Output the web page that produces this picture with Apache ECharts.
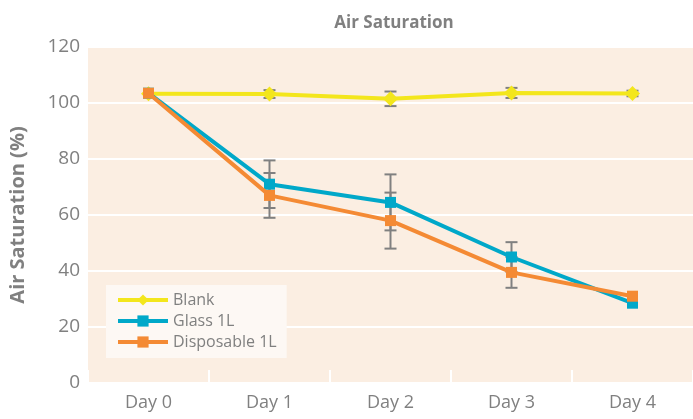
<!DOCTYPE html>
<html>
<head>
<meta charset="utf-8">
<script src="https://cdn.jsdelivr.net/npm/echarts@6/dist/echarts.min.js"></script>
<style>
  html, body { margin: 0; padding: 0; background: #fff; }
  #chart { width: 693px; height: 419px; }
</style>
</head>
<body>
<div id="chart"></div>
<script>
var days = ['Day 0', 'Day 1', 'Day 2', 'Day 3', 'Day 4'];
var blank = [103.3, 103.2, 101.5, 103.6, 103.4];
var blankErr = [0, 1.4, 2.6, 1.8, 1];
var glass = [103.5, 71, 64.5, 45, 28.5];
var glassErr = [0, 8.5, 10, 5.3, 0];
var disposable = [103.5, 67, 58, 39.5, 31];
var disposableErr = [0, 8, 10, 5.5, 0];

var grey = '#808080';
var font = '"Open Sans", "Noto Sans", sans-serif';

function errData(vals, errs) {
  var out = [];
  for (var i = 0; i < vals.length; i++) {
    if (errs[i] > 0) out.push([i, vals[i] - errs[i], vals[i] + errs[i]]);
  }
  return out;
}

function renderErr(params, api) {
  var lo = api.coord([api.value(0), api.value(1)]);
  var hi = api.coord([api.value(0), api.value(2)]);
  var w = 6;
  var st = { stroke: grey, lineWidth: 2 };
  return {
    type: 'group',
    children: [
      { type: 'line', shape: { x1: hi[0], y1: hi[1], x2: lo[0], y2: lo[1] }, style: st },
      { type: 'line', shape: { x1: hi[0] - w, y1: hi[1], x2: hi[0] + w, y2: hi[1] }, style: st },
      { type: 'line', shape: { x1: lo[0] - w, y1: lo[1], x2: lo[0] + w, y2: lo[1] }, style: st }
    ]
  };
}

function errSeries(vals, errs) {
  return {
    type: 'custom',
    renderItem: renderErr,
    data: errData(vals, errs),
    encode: { x: 0, y: [1, 2] },
    z: 1,
    silent: true
  };
}

var chart = echarts.init(document.getElementById('chart'));
chart.setOption({
  animation: false,
  textStyle: { fontFamily: font },
  title: {
    text: 'Air Saturation',
    left: 389,
    textAlign: 'center',
    top: 10,
    textStyle: { color: grey, fontSize: 17, fontWeight: 'bold', fontFamily: font }
  },
  grid: {
    left: 88, right: -5, top: 47, bottom: 36,
    show: true, backgroundColor: '#fbeee2', borderWidth: 0
  },
  legend: {
    orient: 'vertical',
    left: 106, top: 285,
    backgroundColor: '#fdf8f4',
    padding: [7, 10, 8, 10],
    itemGap: 5,
    itemWidth: 50, itemHeight: 14,
    lineStyle: { width: 4 },
    textStyle: { color: grey, fontSize: 16, fontFamily: font },
    data: ['Blank', 'Glass 1L', 'Disposable 1L']
  },
  xAxis: {
    type: 'category',
    data: days,
    boundaryGap: true,
    axisLine: { show: false },
    axisTick: { show: true, inside: true, length: 13, lineStyle: { color: '#fff', width: 2 } },
    axisLabel: { color: grey, fontSize: 18, margin: 11, fontFamily: font },
    splitLine: { show: false }
  },
  yAxis: {
    type: 'value',
    min: 0, max: 120, interval: 20,
    name: 'Air Saturation (%)',
    nameLocation: 'middle',
    nameGap: 60,
    nameTextStyle: { color: grey, fontSize: 20, fontWeight: 'bold', fontFamily: font },
    axisLine: { show: false },
    axisTick: { show: false },
    axisLabel: { color: grey, fontSize: 19, margin: 8, fontFamily: font },
    splitLine: { lineStyle: { color: '#fff', width: 2 } }
  },
  series: [
    errSeries(blank, blankErr),
    errSeries(glass, glassErr),
    errSeries(disposable, disposableErr),
    {
      name: 'Blank', type: 'line', data: blank, z: 3,
      symbol: 'diamond', symbolSize: 15,
      lineStyle: { color: '#f3e61c', width: 4 },
      itemStyle: { color: '#f3e61c' }
    },
    {
      name: 'Glass 1L', type: 'line', data: glass, z: 4,
      symbol: 'rect', symbolSize: 11,
      lineStyle: { color: '#00a8c9', width: 4 },
      itemStyle: { color: '#00a8c9' }
    },
    {
      name: 'Disposable 1L', type: 'line', data: disposable, z: 5,
      symbol: 'rect', symbolSize: 11,
      lineStyle: { color: '#f48a34', width: 4 },
      itemStyle: { color: '#f48a34' }
    }
  ]
});
</script>
</body>
</html>
